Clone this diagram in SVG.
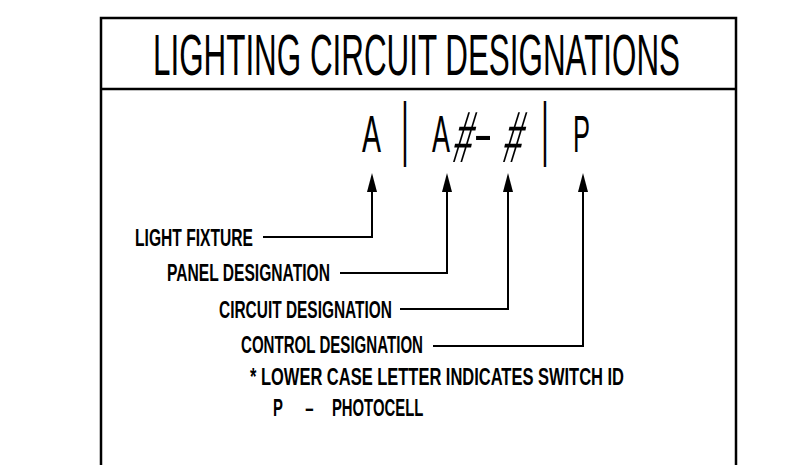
<svg xmlns="http://www.w3.org/2000/svg" width="794" height="465" viewBox="0 0 794 465">
  <style>
    .frame { fill: none; stroke: #000; stroke-width: 2.5; }
    .title { font-family: "Liberation Sans Narrow", "Liberation Sans", Arial, sans-serif; font-size: 58px; fill: #000; }
    .code { font-family: "Liberation Sans Narrow", "Liberation Sans", Arial, sans-serif; font-size: 52px; fill: #000; }
    .lbl { font-family: "Liberation Sans Narrow", "Liberation Sans", Arial, sans-serif; font-size: 23px; font-weight: bold; fill: #000; }
    .note { font-family: "Liberation Sans Narrow", "Liberation Sans", Arial, sans-serif; font-size: 24px; font-weight: bold; fill: #000; }
    .conn { fill: none; stroke: #000; stroke-width: 2; }
  </style>
  <defs>
    <marker id="ah" markerWidth="20" markerHeight="12" refX="0" refY="5" orient="auto" markerUnits="userSpaceOnUse">
      <path d="M0,0 L19,5 L0,10 z" fill="#000"/>
    </marker>
  </defs>
  <rect width="794" height="465" fill="#fff"/>
  <g id="frame">
    <path class="frame" d="M101,465 V18 H736 V465"/>
    <path class="frame" d="M101,89 H736"/>
  </g>
  <g id="title">
    <text class="title" x="153" y="75" textLength="527" lengthAdjust="spacingAndGlyphs">LIGHTING CIRCUIT DESIGNATIONS</text>
  </g>
  <g id="code">
    <text class="code" x="362" y="152" textLength="19" lengthAdjust="spacingAndGlyphs">A</text>
    <text class="code" text-anchor="middle" transform="translate(405,152) scale(0.55,1.34)">|</text>
    <text class="code" x="432" y="152" textLength="18" lengthAdjust="spacingAndGlyphs">A</text>
    <text class="code" text-anchor="middle" transform="translate(460,162) skewX(-12) scale(0.62,1.4)">#</text>
    <text class="code" text-anchor="middle" transform="translate(483,152) scale(1.1,1)">-</text>
    <text class="code" text-anchor="middle" transform="translate(510,162) skewX(-12) scale(0.62,1.4)">#</text>
    <text class="code" text-anchor="middle" transform="translate(545,152) scale(0.55,1.34)">|</text>
    <text class="code" x="573" y="152" textLength="17" lengthAdjust="spacingAndGlyphs">P</text>
  </g>
  <g id="connectors">
    <path class="conn" d="M263,237 H372 V192" marker-end="url(#ah)"/>
    <path class="conn" d="M340,273 H447 V192" marker-end="url(#ah)"/>
    <path class="conn" d="M400,309 H508 V192" marker-end="url(#ah)"/>
    <path class="conn" d="M433,346 H583 V192" marker-end="url(#ah)"/>
  </g>
  <g id="light-fixture">
    <text class="lbl" x="135" y="246" textLength="118" lengthAdjust="spacingAndGlyphs">LIGHT FIXTURE</text>
  </g>
  <g id="panel-designation">
    <text class="lbl" x="167" y="281" textLength="163" lengthAdjust="spacingAndGlyphs">PANEL DESIGNATION</text>
  </g>
  <g id="circuit-designation">
    <text class="lbl" x="219" y="318" textLength="173" lengthAdjust="spacingAndGlyphs">CIRCUIT DESIGNATION</text>
  </g>
  <g id="control-designation">
    <text class="lbl" x="241" y="353" textLength="182" lengthAdjust="spacingAndGlyphs">CONTROL DESIGNATION</text>
    <text class="note" x="250" y="385" textLength="374" lengthAdjust="spacingAndGlyphs">* LOWER CASE LETTER INDICATES SWITCH ID</text>
    <text class="note" transform="translate(273,416) scale(0.62,1)"><tspan x="0">P</tspan><tspan x="52">–</tspan><tspan x="95">PHOTOCELL</tspan></text>
  </g>
</svg>
